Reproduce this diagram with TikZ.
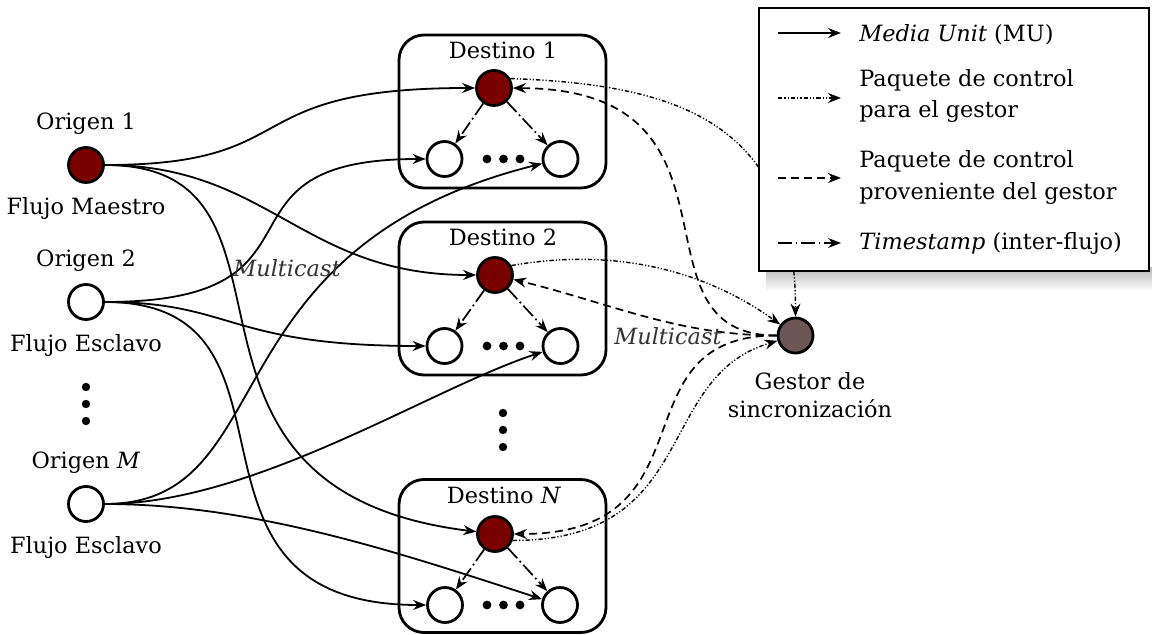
\documentclass[tikz,border=0pt]{standalone}
\usepackage{fontspec}
\setmainfont{DejaVu Serif}
\usetikzlibrary{arrows.meta}

\definecolor{masterred}{RGB}{122,0,0}
\definecolor{managerfill}{RGB}{108,86,86}

\begin{document}
\begin{tikzpicture}[
  x=0.5pt, y=-0.5pt,
  >={Stealth[length=6.5pt,width=5pt,inset=2.2pt]},
  font=\fontsize{11.2}{14}\selectfont,
  flow/.style={circle, draw, line width=1.4pt, minimum size=17.5pt, inner sep=0pt},
  master/.style={flow, fill=masterred},
  slave/.style={flow, fill=white},
  manager/.style={flow, fill=managerfill},
  destbox/.style={draw, rounded corners=12.5pt, line width=1.4pt,
                  minimum width=103.5pt, minimum height=76.5pt, inner sep=0pt},
  txt/.style={inner sep=0pt, anchor=base},
  legtxt/.style={inner sep=0pt, anchor=base west},
  mu/.style={->, line width=0.9pt},
  stamp/.style={->, line width=0.85pt, dash pattern=on 7pt off 1.8pt on 0.9pt off 1.8pt},
  toman/.style={->, line width=0.7pt, dash pattern=on 2.2pt off 1pt on 0.6pt off 1pt on 0.6pt off 1pt},
  fromman/.style={->, line width=0.85pt, dash pattern=on 4pt off 2.5pt},
]
\useasboundingbox (0,0) rectangle (1152,635);

% ---------- sources ----------
\node[master] (o1) at (86,165) {};
\node[slave]  (o2) at (86,302) {};
\node[slave]  (om) at (86,504) {};
\node[txt] (o1t) at (86,130) {Origen 1};
\node[txt] (o1b) at (86,215) {Flujo Maestro};
\node[txt] (o2t) at (86,267) {Origen 2};
\node[txt] (o2b) at (86,352) {Flujo Esclavo};
\node[txt] (omt) at (86,469) {Origen \textit{M}};
\node[txt] (omb) at (86,554) {Flujo Esclavo};
\foreach \y in {387,404,421} \fill (86,\y) circle[radius=2.1pt];

% ---------- destinations ----------
\node[destbox] (b1) at (502.5,111.5) {};
\node[destbox] (b2) at (502.5,298.5) {};
\node[destbox] (bn) at (502.5,556) {};
\node[txt] (b1t) at (503,59)  {Destino 1};
\node[txt] (b2t) at (503,246) {Destino 2};
\node[txt] (bnt) at (504,504) {Destino \textit{N}};

\node[master] (d1)  at (494,88)    {};
\node[slave]  (d1l) at (444.5,159) {};
\node[slave]  (d1r) at (560.5,159) {};
\node[master] (d2)  at (495,275)   {};
\node[slave]  (d2l) at (444.5,346) {};
\node[slave]  (d2r) at (560.5,346) {};
\node[master] (dn)  at (495,534)   {};
\node[slave]  (dnl) at (445,605)   {};
\node[slave]  (dnr) at (560,605)   {};
\foreach \y in {159,346,605}
  \foreach \x in {487,503.5,520} \fill (\x,\y) circle[radius=2.2pt];
\foreach \y in {413,430,447} \fill (503,\y) circle[radius=2.1pt];

% ---------- synchronisation manager ----------
\node[manager] (g) at (795.5,335.5) {};
\node[txt] (gt1) at (810,390) {Gestor de};
\node[txt] (gt2) at (810,418) {sincronización};

% legend shadow (under everything else)
\shade[top color=gray!55, middle color=gray!75, bottom color=white]
  (766,268) rectangle (1152,291);

% ---------- media units from the sources ----------
\draw[mu] (o1) .. controls +(223,0) and +(-263,0) .. (d1);
\draw[mu] (o1) .. controls +(183,0) and +(-193,0) .. (d2);
\draw[mu] (o1) .. controls +(245,0) and +(-365,-45) .. (dn);
\draw[mu] (o2) .. controls +(260,0) and +(-248,0) .. (d1l);
\draw[mu] (o2) .. controls +(148,0) and +(-218,0) .. (d2l);
\draw[mu] (o2) .. controls +(240,0) and +(-295,0) .. (dnl);
\draw[mu] (om) .. controls +(198,0) and +(-357,89) .. (d1r);
\draw[mu] (om) .. controls +(168,0) and +(-131,43) .. (d2r);
\draw[mu] (om) .. controls +(168,0) and +(-160,-52) .. (dnr);

% ---------- inter-stream timestamps inside each destination ----------
\draw[stamp] (d1) -- (d1l);  \draw[stamp] (d1) -- (d1r);
\draw[stamp] (d2) -- (d2l);  \draw[stamp] (d2) -- (d2r);
\draw[stamp] (dn) -- (dnl);  \draw[stamp] (dn) -- (dnr);

% ---------- control packets to / from the manager ----------
\draw[toman]   (d1.30) .. controls +(165,6) and +(0,-215) .. (g);
\draw[fromman] (g) .. controls +(-174,0) and +(269,1) .. (d1);
\draw[toman]   (d2.30) .. controls +(96,-17) and +(-96,-69) .. (g);
\draw[fromman] (g) .. controls +(-118,0) and +(115,28) .. (d2);
\draw[fromman] (g) .. controls +(-183,0) and +(223,0) .. (dn);
\draw[toman]   (dn.-20) .. controls +(188,0) and +(-142,42) .. (g);

\node[inner sep=0pt, text=black!80] (mc1) at (287,268) {\textit{Multicast}};
\node[inner sep=0pt, text=black!80] (mc2) at (668,336) {\textit{Multicast}};

% ---------- legend ----------
\node[draw, fill=white, line width=1pt, minimum width=195pt, minimum height=131.5pt,
      inner sep=0pt] (leg) at (954,140) {};
\coordinate (la1) at (778,33);  \coordinate (la2) at (841,33);
\coordinate (lb1) at (778,98);  \coordinate (lb2) at (841,98);
\coordinate (lc1) at (778,178); \coordinate (lc2) at (841,178);
\coordinate (ld1) at (778,243); \coordinate (ld2) at (841,243);
\draw[mu]      (la1) -- (la2);
\draw[toman]   (lb1) -- (lb2);
\draw[fromman] (lc1) -- (lc2);
\draw[stamp]   (ld1) -- (ld2);
\node[legtxt] (lt1)  at (859,42)  {\textit{Media Unit} (MU)};
\node[legtxt] (lt2a) at (859,87)  {Paquete de control};
\node[legtxt] (lt2b) at (859,118) {para el gestor};
\node[legtxt] (lt3a) at (859,168) {Paquete de control};
\node[legtxt] (lt3b) at (859,200) {proveniente del gestor};
\node[legtxt] (lt4)  at (859,250) {\textit{Timestamp} (inter-flujo)};
\end{tikzpicture}
\end{document}
